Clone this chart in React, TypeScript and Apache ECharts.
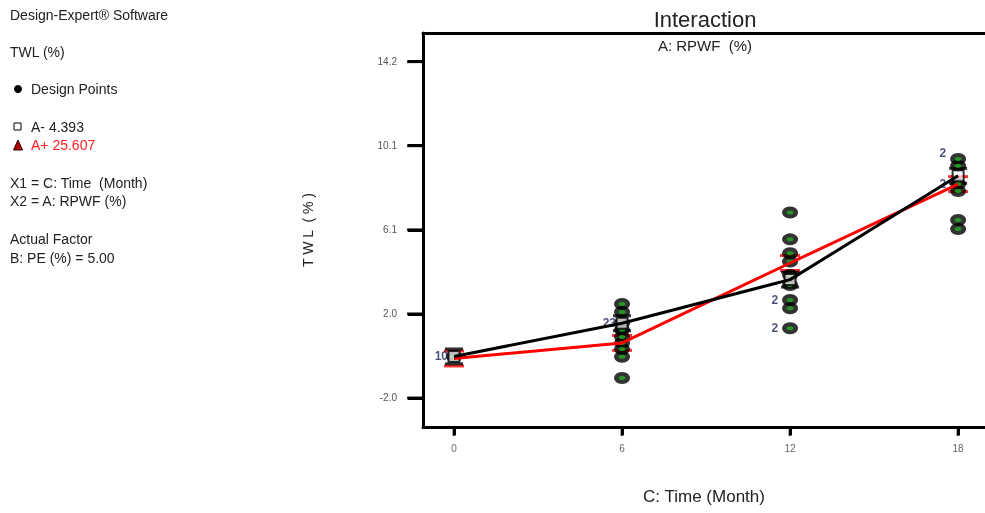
import React, { useEffect, useRef } from "react";
import * as echarts from "echarts";

// ---- data ----
const months = [0, 6, 12, 18];
const lowRPWF = [0.0, 1.6, 3.7, 8.7]; // A- 4.393 (black)
const highRPWF = [-0.1, 0.65, 4.5, 8.3]; // A+ 25.607 (red)
const lsdHalf = 0.36;

const designMonth = [0, 6, 6, 6, 6, 6, 6, 6, 6, 6, 12, 12, 12, 12, 12, 12, 12, 12, 12, 18, 18, 18, 18, 18, 18];
const designTWL = [0.0, 2.53, 2.14, 1.61, 1.28, 0.94, 0.65, 0.36, -0.02, -1.04, 6.93, 5.64, 4.97, 4.57, 3.92, 3.44, 2.72, 2.32, 1.36, 9.51, 9.18, 8.31, 7.97, 6.57, 6.14];
const designCount = ["10", "", "", "23", "", "", "", "", "", "", "", "", "", "", "", "", "2", "", "2", "2", "", "2", "", "", ""];

const xTickValues = [0, 6, 12, 18];
const yTickValues = [-2.0, 2.05, 6.1, 10.15, 14.2];
const yTickLabels = ["-2.0", "2.0", "6.1", "10.1", "14.2"];

const X_MIN = -1.107;
const X_MAX = 18.96;
const Y_MIN = -3.4;
const Y_MAX = 15.58;

const infoLines = [
  { text: "Design-Expert® Software", y: 15 },
  { text: "TWL (%)", y: 52 },
  { text: "Design Points", y: 89, x: 31 },
  { text: "A- 4.393", y: 127, x: 31 },
  { text: "X1 = C: Time  (Month)", y: 183 },
  { text: "X2 = A: RPWF (%)", y: 201 },
  { text: "Actual Factor", y: 239 },
  { text: "B: PE (%) = 5.00", y: 258 },
];

export default function App() {
  const ref = useRef<HTMLDivElement>(null);
  useEffect(() => {
    document.body.style.margin = "0";
    const chart = echarts.init(ref.current!, null, { renderer: "svg" });
    const font = "Liberation Sans, Arial, sans-serif";

    const designData = designMonth.map((m, i) => ({
      value: [m, designTWL[i]],
      label: designCount[i]
        ? { show: true, formatter: designCount[i], position: "left", distance: designCount[i].length > 1 ? -2 : 4, offset: i === 19 ? [0, -6] : [0, 0] }
        : { show: false },
    }));
    const designXY = designMonth.map((m, i) => [m, designTWL[i]]);

    const bars = (means: number[]) => {
      const out: number[][] = [];
      means.forEach((v, i) => {
        out.push([months[i], v - lsdHalf]);
        out.push([months[i], v + lsdHalf]);
      });
      return out;
    };

    const graphics: any[] = infoLines.map((l) => ({
      type: "text",
      x: l.x ?? 10,
      y: l.y,
      style: { text: l.text, fill: "#222", font: `14px ${font}`, verticalAlign: "middle" },
    }));
    graphics.push(
      { type: "circle", shape: { cx: 18, cy: 89, r: 4 }, style: { fill: "#000" } },
      { type: "rect", shape: { x: 14, y: 123, width: 7, height: 7 }, style: { fill: "#fff", stroke: "#000", lineWidth: 1 } },
      { type: "polygon", shape: { points: [[18, 140], [13.5, 150], [22.5, 150]] }, style: { fill: "#b00000", stroke: "#300", lineWidth: 1 } },
      { type: "text", x: 31, y: 145, style: { text: "A+ 25.607", fill: "#ff2020", font: `14px ${font}`, verticalAlign: "middle" } },
      { type: "text", x: 705, y: 19, style: { text: "Interaction", fill: "#222", font: `22px ${font}`, align: "center", verticalAlign: "middle" } },
      { type: "text", x: 705, y: 45, style: { text: "A: RPWF  (%)", fill: "#222", font: `15px ${font}`, align: "center", verticalAlign: "middle" } }
    );

    chart.setOption({
      animation: false,
      grid: { left: 423, top: 33, right: 0, bottom: 86, show: false },
      xAxis: [
        {
          type: "value",
          min: X_MIN,
          max: X_MAX,
          name: "C: Time (Month)",
          nameLocation: "middle",
          nameGap: 61,
          nameTextStyle: { fontSize: 17, color: "#222", fontFamily: font },
          axisLine: { onZero: false, lineStyle: { color: "#000", width: 3 } },
          axisTick: { show: true, length: 8, lineStyle: { color: "#000", width: 3 }, customValues: xTickValues },
          axisLabel: { fontSize: 10, color: "#666", margin: 16, fontFamily: font, customValues: xTickValues },
          splitLine: { show: false },
        },
        {
          type: "value",
          position: "top",
          min: X_MIN,
          max: X_MAX,
          axisLine: { onZero: false, lineStyle: { color: "#000", width: 3 } },
          axisTick: { show: false },
          axisLabel: { show: false },
          splitLine: { show: false },
        },
      ],
      yAxis: {
        type: "value",
        min: Y_MIN,
        max: Y_MAX,
        name: "T W L  ( % )",
        nameLocation: "middle",
        nameGap: 108,
        nameTextStyle: { fontSize: 14, color: "#222", fontFamily: font },
        axisLine: { onZero: false, lineStyle: { color: "#000", width: 3 } },
        axisTick: { show: true, length: 15, lineStyle: { color: "#000", width: 3 }, customValues: yTickValues },
        axisLabel: {
          fontSize: 10,
          color: "#555",
          margin: 26,
          fontFamily: font,
          customValues: yTickValues,
          formatter: (v: number) => {
            let best = 0;
            yTickValues.forEach((t, i) => { if (Math.abs(t - v) < Math.abs(yTickValues[best] - v)) best = i; });
            return yTickLabels[best];
          },
        },
        splitLine: { show: false },
      },
      series: [
        {
          type: "scatter",
          clip: false,
          silent: true,
          data: yTickValues.map((v) => [X_MIN, v]),
          symbol: "rect",
          symbolSize: [16, 3],
          symbolOffset: [-8, 0],
          itemStyle: { color: "#000" },
        },
        {
          type: "scatter",
          clip: false,
          silent: true,
          data: xTickValues.map((v) => [v, Y_MIN]),
          symbol: "rect",
          symbolSize: [3, 9],
          symbolOffset: [0, 4.5],
          itemStyle: { color: "#000" },
        },
        {
          type: "line",
          data: months.map((m, i) => [m, highRPWF[i]]),
          symbol: "none",
          lineStyle: { color: "#ff0000", width: 3 },
        },
        {
          type: "line",
          data: months.map((m, i) => [m, lowRPWF[i]]),
          symbol: "none",
          lineStyle: { color: "#000", width: 3 },
        },
        {
          type: "scatter",
          data: bars(highRPWF),
          symbol: "rect",
          symbolSize: [20, 3],
          itemStyle: { color: "#ff0000" },
        },
        {
          type: "scatter",
          data: bars(lowRPWF),
          symbol: "rect",
          symbolSize: [18, 3],
          itemStyle: { color: "#000" },
        },
        {
          type: "scatter",
          data: designData,
          symbol: "circle",
          symbolSize: [16, 12],
          itemStyle: { color: "#000" },
          label: { color: "#1c2457", fontSize: 12, fontWeight: "bold", fontFamily: font },
        },
        {
          type: "scatter",
          data: designXY,
          symbol: "circle",
          symbolSize: [7, 4],
          itemStyle: { color: "#22b022" },
        },
        {
          type: "scatter",
          data: months.map((m, i) => [m, lowRPWF[i]]),
          symbol: "rect",
          symbolSize: 11,
          itemStyle: { color: "rgba(255,255,255,0.85)", borderColor: "#000", borderWidth: 2 },
        },
      ],
      graphic: graphics,
    });
    return () => chart.dispose();
  }, []);
  return <div ref={ref} style={{ position: "fixed", left: 0, top: 0, width: 985, height: 513 }} />;
}
